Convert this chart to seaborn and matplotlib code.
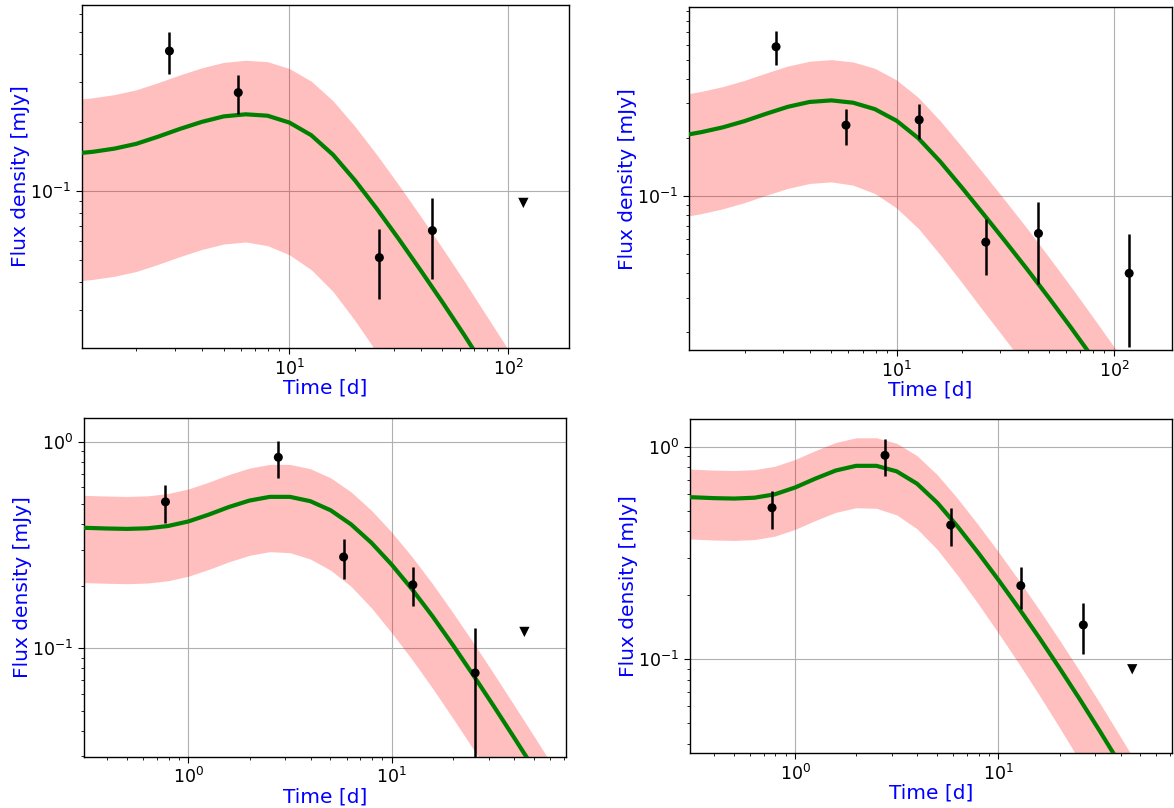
import numpy as np
import pandas as pd
import matplotlib
matplotlib.use("Agg")
import matplotlib.pyplot as plt
from matplotlib.ticker import NullFormatter
import seaborn as sns

# ---------------- Panel 1 (top-left) ----------------
p1_t = [2.83, 5.84, 25.8, 45.1]
p1_f = [0.411, 0.270, 0.051, 0.067]
p1_err = [0.085, 0.053, 0.0174, 0.026]
p1_ul_t = [117.5]
p1_ul_f = [0.0886]
p1_mt = [1.127, 1.259, 1.585, 1.995, 2.512, 3.162, 3.981, 5.012, 6.310, 7.943, 10.0, 12.59, 15.85, 19.95,
         25.12, 31.62, 39.81, 50.12, 63.10, 79.43, 100.0, 125.9]
p1_model = [0.1469, 0.1484, 0.1533, 0.1609, 0.1730, 0.1871, 0.2009, 0.2123, 0.2168, 0.2138, 0.1995, 0.1756,
            0.1440, 0.1113, 0.0835, 0.0616, 0.0449, 0.0325, 0.0233, 0.0165, 0.0117, 0.00825]
p1_hi = [0.2535, 0.2561, 0.2646, 0.2777, 0.2986, 0.3229, 0.3468, 0.3664, 0.3742, 0.3690, 0.3443, 0.3031,
         0.2485, 0.1921, 0.1441, 0.1063, 0.0775, 0.0561, 0.0402, 0.0285, 0.0202, 0.0142]
p1_lo = [0.04046, 0.04088, 0.04222, 0.04431, 0.04764, 0.05152, 0.05534, 0.05848, 0.0597, 0.05754, 0.05248,
         0.04513, 0.03618, 0.02701, 0.01956, 0.01411, 0.01006, 0.00727, 0.00521, 0.0037, 0.00262, 0.00185]

# ---------------- Panel 2 (top-right) ----------------
p2_t = [2.79, 5.85, 12.7, 25.7, 44.9, 117.3]
p2_f = [0.588, 0.232, 0.247, 0.0579, 0.0642, 0.040]
p2_err = [0.117, 0.048, 0.050, 0.0185, 0.029, 0.0234]
p2_ul_t = []
p2_ul_f = []
p2_mt = [1.11, 1.259, 1.585, 1.995, 2.512, 3.162, 3.981, 5.012, 6.310, 7.943, 10.0, 12.59, 15.85, 19.95,
         25.12, 31.62, 39.81, 50.12, 63.10, 79.43, 100.0, 125.9]
p2_model = [0.2080, 0.2133, 0.2259, 0.2432, 0.2655, 0.2884, 0.3055, 0.3112, 0.3027, 0.2805, 0.2443, 0.1986,
            0.1507, 0.1107, 0.08054, 0.05834, 0.04198, 0.02992, 0.02113, 0.01479, 0.0103, 0.00715]
p2_hi = [0.3374, 0.3460, 0.3664, 0.3945, 0.4306, 0.4678, 0.4955, 0.5048, 0.4910, 0.4550, 0.3963, 0.3221,
         0.2444, 0.1796, 0.1306, 0.0946, 0.0681, 0.0485, 0.0343, 0.0240, 0.0167, 0.0116]
p2_lo = [0.07907, 0.0811, 0.0859, 0.09247, 0.10093, 0.1096, 0.1161, 0.1183, 0.1138, 0.1030, 0.0867, 0.06808,
         0.04989, 0.03581, 0.02547, 0.01824, 0.01297, 0.00925, 0.00653, 0.00457, 0.00318, 0.00221]

# ---------------- Panel 3 (bottom-left) ----------------
p3_t = [0.772, 2.77, 5.80, 12.7, 25.7]
p3_f = [0.511, 0.839, 0.2765, 0.2028, 0.076]
p3_err = [0.108, 0.170, 0.060, 0.0435, 0.050]
p3_ul_t = [44.9]
p3_ul_f = [0.120]
p3_mt = [0.307, 0.316, 0.398, 0.501, 0.631, 0.794, 1.0, 1.259, 1.585, 1.995, 2.512, 3.162, 3.981, 5.012,
         6.310, 7.943, 10.0, 12.59, 15.85, 19.95, 25.12, 31.62, 39.81, 50.12, 63.10, 79.43]
p3_model = [0.3824, 0.3824, 0.3797, 0.3780, 0.3806, 0.3904, 0.4107, 0.4431, 0.4826, 0.5182, 0.5401, 0.5401,
            0.5146, 0.4650, 0.3976, 0.3240, 0.2538, 0.1930, 0.1431, 0.1039, 0.07438, 0.05278, 0.0372, 0.02609,
            0.01826, 0.01275]
p3_hi = [0.5489, 0.5489, 0.5451, 0.5426, 0.5464, 0.5604, 0.5896, 0.6361, 0.6928, 0.7439, 0.7753, 0.7753,
         0.7387, 0.6675, 0.5708, 0.4651, 0.3643, 0.2771, 0.2054, 0.1491, 0.1068, 0.0758, 0.0534, 0.0375,
         0.0262, 0.0183]
p3_lo = [0.2077, 0.2077, 0.2063, 0.2053, 0.2068, 0.2121, 0.2231, 0.2407, 0.2621, 0.2815, 0.2934, 0.2900,
         0.2701, 0.2385, 0.1993, 0.1569, 0.1187, 0.0882, 0.0642, 0.04597, 0.03262, 0.02314, 0.01631, 0.01144,
         0.0080, 0.00559]

# ---------------- Panel 4 (bottom-right) ----------------
p4_t = [0.77, 2.77, 5.83, 12.9, 26.2]
p4_f = [0.516, 0.911, 0.428, 0.222, 0.145]
p4_err = [0.106, 0.180, 0.088, 0.050, 0.039]
p4_ul_t = [45.6]
p4_ul_f = [0.0897]
p4_mt = [0.304, 0.316, 0.398, 0.501, 0.631, 0.794, 1.0, 1.259, 1.585, 1.995, 2.512, 3.162, 3.981, 5.012,
         6.310, 7.943, 10.0, 12.59, 15.85, 19.95, 25.12, 31.62, 39.81, 50.12, 63.10]
p4_model = [0.5788, 0.5781, 0.5728, 0.5702, 0.5754, 0.5970, 0.6427, 0.7079, 0.7727, 0.8128, 0.8128, 0.7656,
            0.6699, 0.5445, 0.4207, 0.3177, 0.2366, 0.1742, 0.1268, 0.0912, 0.06501, 0.04581, 0.03199,
            0.02223, 0.01542]
p4_hi = [0.7843, 0.7833, 0.7761, 0.7726, 0.7797, 0.8089, 0.8709, 0.9592, 1.0470, 1.1013, 1.1013, 1.0374,
         0.9077, 0.7378, 0.5700, 0.4305, 0.3206, 0.2360, 0.1718, 0.1236, 0.0881, 0.0621, 0.0433, 0.0301, 0.0209]
p4_lo = [0.3678, 0.3673, 0.3639, 0.3622, 0.3656, 0.3793, 0.4083, 0.4498, 0.4909, 0.5164, 0.5129, 0.4775,
         0.4111, 0.3281, 0.2477, 0.1828, 0.1330, 0.09572, 0.06808, 0.04786, 0.03334, 0.02323, 0.01622,
         0.01127, 0.00782]

panels = [
    dict(t=p1_t, f=p1_f, e=p1_err, ult=p1_ul_t, ulf=p1_ul_f, mt=p1_mt, m=p1_model, hi=p1_hi, lo=p1_lo,
         pos=[82, 4.7, 569, 348.3], xlim=(1.127, 190), ylim=(0.0204, 0.656)),
    dict(t=p2_t, f=p2_f, e=p2_err, ult=p2_ul_t, ulf=p2_ul_f, mt=p2_mt, m=p2_model, hi=p2_hi, lo=p2_lo,
         pos=[689, 7.3, 1171.7, 350], xlim=(1.11, 184), ylim=(0.0161, 0.939)),
    dict(t=p3_t, f=p3_f, e=p3_err, ult=p3_ul_t, ulf=p3_ul_f, mt=p3_mt, m=p3_model, hi=p3_hi, lo=p3_lo,
         pos=[84, 418, 566, 756.7], xlim=(0.307, 71.9), ylim=(0.0299, 1.30)),
    dict(t=p4_t, f=p4_f, e=p4_err, ult=p4_ul_t, ulf=p4_ul_f, mt=p4_mt, m=p4_model, hi=p4_hi, lo=p4_lo,
         pos=[690, 419, 1171.7, 753.3], xlim=(0.304, 71.3), ylim=(0.0361, 1.35)),
]

W, H = 1174, 808
fig = plt.figure(figsize=(W / 100, H / 100), dpi=100)

for p in panels:
    x0, y0, x1, y1 = p["pos"]
    ax = fig.add_axes([x0 / W, 1 - y1 / H, (x1 - x0) / W, (y1 - y0) / H])
    ax.set_xscale("log")
    ax.set_yscale("log")
    ax.fill_between(p["mt"], p["lo"], p["hi"], color="red", alpha=0.25, lw=0, zorder=1)
    dfm = pd.DataFrame({"t": p["mt"], "f": p["m"]})
    sns.lineplot(data=dfm, x="t", y="f", ax=ax, color="green", lw=3, estimator=None, sort=False, zorder=3)
    ax.errorbar(p["t"], p["f"], yerr=p["e"], fmt="none", ecolor="black", elinewidth=1.8, capsize=0, zorder=4)
    dfp = pd.DataFrame({"t": p["t"], "f": p["f"]})
    sns.scatterplot(data=dfp, x="t", y="f", ax=ax, color="black", s=42, edgecolor="none", zorder=5)
    if len(p["ult"]):
        dfu = pd.DataFrame({"t": p["ult"], "f": p["ulf"]})
        sns.scatterplot(data=dfu, x="t", y="f", ax=ax, color="black", marker="v", s=55, edgecolor="none", zorder=5)
    ax.set_xlim(*p["xlim"])
    ax.set_ylim(*p["ylim"])
    ax.grid(True, which="major", color="#b0b0b0", lw=0.8)
    ax.set_axisbelow(True)
    ax.xaxis.set_minor_formatter(NullFormatter())
    ax.yaxis.set_minor_formatter(NullFormatter())
    ax.tick_params(axis="both", which="major", labelsize=12.5, length=4, color="black")
    ax.tick_params(axis="both", which="minor", length=2.5, color="black")
    for s in ax.spines.values():
        s.set_color("black")
        s.set_linewidth(1.0)
    ax.set_xlabel("Time [d]", color="blue", fontsize=14.5, labelpad=0)
    ax.set_ylabel("Flux density [mJy]", color="blue", fontsize=14.5, labelpad=0)

fig.savefig("out.png", dpi=100)
